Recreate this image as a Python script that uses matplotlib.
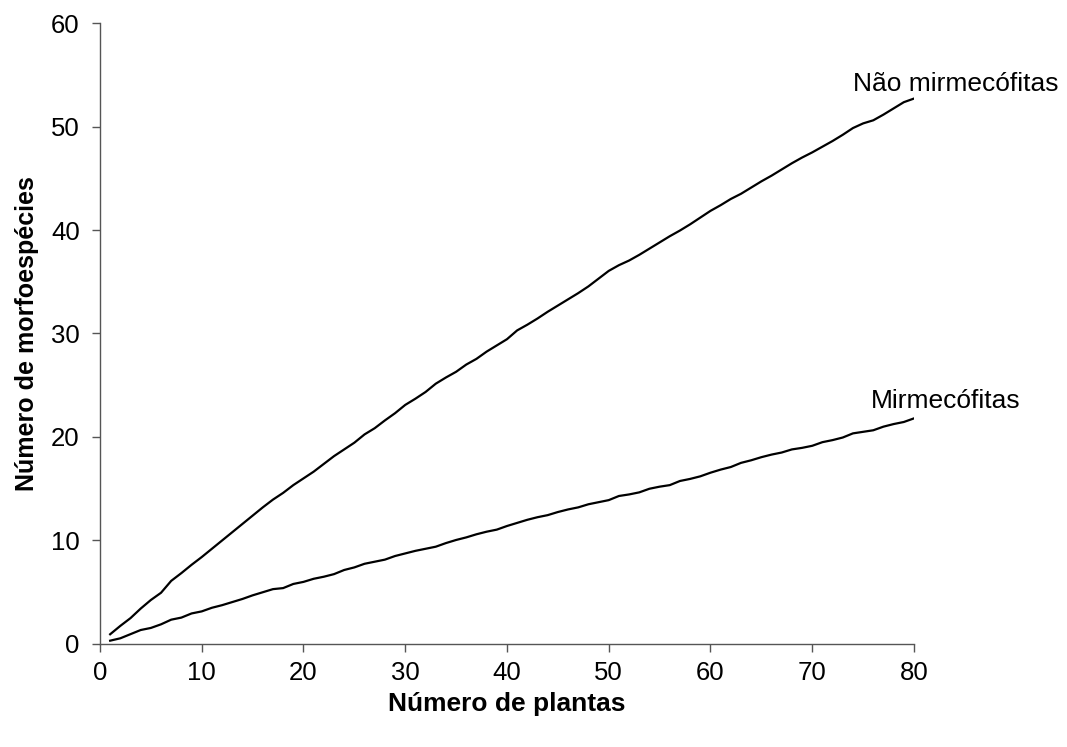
import matplotlib
matplotlib.use('Agg')
import matplotlib.pyplot as plt

plt.rcParams['font.family'] = ['Liberation Sans', 'DejaVu Sans']

plantas = list(range(1, 81))

nao_mirmecofitas = [
    0.94, 1.75, 2.50, 3.42, 4.25, 4.95, 6.10, 6.85, 7.65, 8.40,
    9.20, 10.00, 10.80, 11.60, 12.40, 13.20, 13.95, 14.60, 15.35, 16.00,
    16.65, 17.40, 18.15, 18.80, 19.45, 20.25, 20.85, 21.60, 22.30, 23.10,
    23.70, 24.35, 25.15, 25.75, 26.30, 27.00, 27.55, 28.25, 28.85, 29.45,
    30.30, 30.85, 31.45, 32.10, 32.70, 33.30, 33.90, 34.55, 35.30, 36.05,
    36.60, 37.05, 37.60, 38.20, 38.80, 39.40, 39.95, 40.55, 41.20, 41.85,
    42.40, 43.00, 43.50, 44.10, 44.70, 45.25, 45.85, 46.45, 47.00, 47.50,
    48.05, 48.60, 49.20, 49.85, 50.30, 50.60, 51.15, 51.75, 52.35, 52.70,
]

mirmecofitas = [
    0.32, 0.55, 0.95, 1.35, 1.55, 1.90, 2.35, 2.55, 2.95, 3.15,
    3.50, 3.75, 4.05, 4.35, 4.70, 5.00, 5.30, 5.40, 5.80, 6.00,
    6.30, 6.50, 6.75, 7.15, 7.40, 7.75, 7.95, 8.15, 8.50, 8.75,
    9.00, 9.20, 9.40, 9.75, 10.05, 10.30, 10.60, 10.85, 11.05, 11.40,
    11.70, 12.00, 12.25, 12.45, 12.75, 13.00, 13.20, 13.50, 13.70, 13.90,
    14.30, 14.45, 14.65, 15.00, 15.20, 15.35, 15.75, 15.95, 16.20, 16.55,
    16.85, 17.10, 17.50, 17.75, 18.05, 18.30, 18.50, 18.80, 18.95, 19.15,
    19.50, 19.70, 19.95, 20.35, 20.50, 20.65, 21.00, 21.25, 21.45, 21.80,
]

x_ticks = [0, 10, 20, 30, 40, 50, 60, 70, 80]
y_ticks = [0, 10, 20, 30, 40, 50, 60]

fig = plt.figure(figsize=(10.67, 7.47), dpi=100)
ax = fig.add_axes([0.0937, 0.1379, 0.7629, 0.8313])

ax.plot(plantas, nao_mirmecofitas, color='black', lw=1.6)
ax.plot(plantas, mirmecofitas, color='black', lw=1.6)

ax.set_xlim(0, 80)
ax.set_ylim(0, 60)
ax.set_xticks(x_ticks)
ax.set_yticks(y_ticks)

for side in ['top', 'right']:
    ax.spines[side].set_visible(False)
for side in ['left', 'bottom']:
    ax.spines[side].set_color('#555555')
    ax.spines[side].set_linewidth(1.0)

ax.tick_params(direction='out', length=6, width=1.0, color='#555555',
               labelsize=18.5)
ax.tick_params(axis='x', pad=6)
ax.tick_params(axis='y', pad=8.5)

ax.set_xlabel('Número de plantas', fontsize=19, fontweight='bold', labelpad=5)
ax.set_ylabel('Número de morfoespécies', fontsize=18, fontweight='bold', labelpad=9)

ax.text(84.1, 53.4, 'Não mirmecófitas', fontsize=19, ha='center', va='baseline',
        clip_on=False)
ax.text(83.1, 22.8, 'Mirmecófitas', fontsize=19, ha='center', va='baseline',
        clip_on=False)

fig.savefig('out.png', dpi=100)
